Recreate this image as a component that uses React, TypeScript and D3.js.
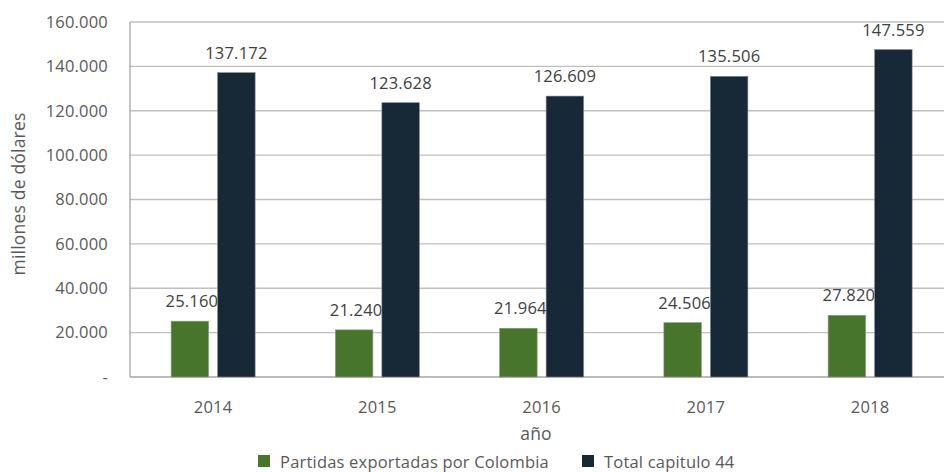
import React from "react";
import * as d3 from "d3";

const years = ["2014", "2015", "2016", "2017", "2018"];
const partidas = [25160, 21240, 21964, 24506, 27820];
const totalCap44 = [137172, 123628, 126609, 135506, 147559];
const yTicks = [0, 20000, 40000, 60000, 80000, 100000, 120000, 140000, 160000];
const seriesNames = ["Partidas exportadas por Colombia", "Total capitulo 44"];

const W = 944;
const H = 472;
const left = 130;
const top = 22;
const bottom = 377;
const band = 164.25;
const right = left + band * years.length;

const green = "#47752B";
const dark = "#172837";
const textColor = "#595959";
const font = "'Open Sans', Lato, sans-serif";
const fs = 16.5;
const ls = 0.2;

const loc = d3.formatLocale({ decimal: ",", thousands: ".", grouping: [3], currency: ["$", ""] });
const fmt = loc.format(",.0f");

export default function App() {
  const x = d3.scaleBand<string>().domain(years).range([left, right]).paddingInner(0).paddingOuter(0);
  const y = d3.scaleLinear().domain([0, 160000]).range([bottom, top]);
  const bw = 37.5;
  const gap = 9;
  const gx = (yr: string) => x(yr)! + x.bandwidth() / 2 - gap / 2 - bw + 1;
  const dx = (yr: string) => x(yr)! + x.bandwidth() / 2 + gap / 2 + 1;
  const off = 14;

  return (
    <svg width={W} height={H} style={{ position: "absolute", left: 0, top: 0, background: "#fff" }} fontFamily={font} letterSpacing={ls}>
      {yTicks.map((t) => (
        <g key={t}>
          {t > 0 && <line x1={left} x2={W} y1={y(t)} y2={y(t)} stroke="#BFBFBF" strokeWidth={1.3} />}
          <text x={108} y={y(t)} dy="0.35em" textAnchor="end" fontSize={fs} fill={textColor}>
            {t === 0 ? "-" : fmt(t)}
          </text>
        </g>
      ))}
      <line x1={left} x2={left} y1={top} y2={bottom} stroke="#A6A6A6" strokeWidth={1.3} />
      <line x1={left} x2={W} y1={bottom} y2={bottom} stroke="#A6A6A6" strokeWidth={1.3} />

      {years.map((yr, i) => (
        <g key={"g" + yr}>
          <rect x={gx(yr)} y={y(partidas[i])} width={bw} height={bottom - y(partidas[i])} fill={green} stroke="#8A9A80" strokeWidth={0.6} />
          <text x={gx(yr) + bw / 2 + 2} y={y(partidas[i]) - off} textAnchor="middle" fontSize={fs} fill="#404040">
            {fmt(partidas[i])}
          </text>
        </g>
      ))}
      {years.map((yr, i) => (
        <g key={"d" + yr}>
          <rect x={dx(yr)} y={y(totalCap44[i])} width={bw} height={bottom - y(totalCap44[i])} fill={dark} stroke="#7F8790" strokeWidth={0.6} />
          <text x={dx(yr) + bw / 2} y={y(totalCap44[i]) - off} textAnchor="middle" fontSize={fs} fill="#404040">
            {fmt(totalCap44[i])}
          </text>
        </g>
      ))}

      {years.map((yr) => (
        <text key={"x" + yr} x={x(yr)! + x.bandwidth() / 2 + 1} y={413} textAnchor="middle" fontSize={fs} fill={textColor}>
          {yr}
        </text>
      ))}

      <text x={536} y={440} textAnchor="middle" fontSize={17.5} fill={textColor}>año</text>
      <text transform={`translate(25,${194}) rotate(-90)`} textAnchor="middle" fontSize={17.5} fill={textColor}>
        millones de dólares
      </text>

      <rect x={258} y={455} width={12} height={12} fill={green} />
      <text x={280} y={468} fontSize={fs} fill={textColor}>{seriesNames[0]}</text>
      <rect x={582} y={455} width={12} height={12} fill={dark} />
      <text x={604} y={468} fontSize={fs} fill={textColor}>{seriesNames[1]}</text>
    </svg>
  );
}
